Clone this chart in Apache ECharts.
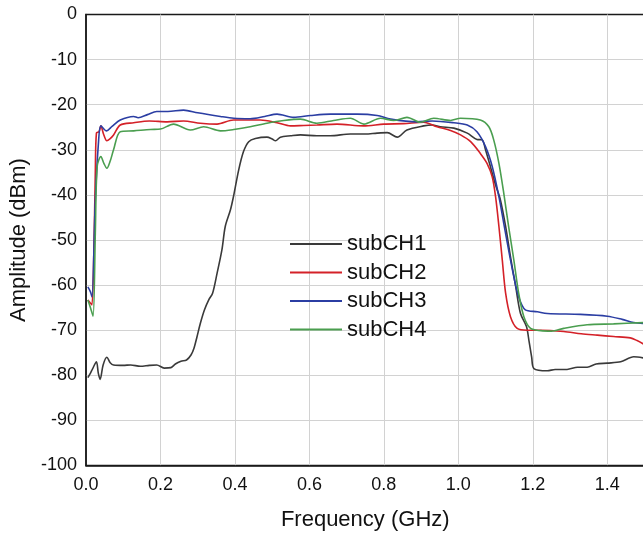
<!DOCTYPE html>
<html>
<head>
<meta charset="utf-8">
<script src="https://cdn.jsdelivr.net/npm/echarts@6/dist/echarts.min.js"></script>
<style>
  html, body { margin: 0; padding: 0; background: #fff; }
  #chart { width: 643px; height: 535px; }
</style>
</head>
<body>
<div id="chart"></div>
<script>
// series names
const seriesNames = ['subCH1', 'subCH2', 'subCH3', 'subCH4'];

// subCH1 (black)
const ch1Freq = [0.005, 0.012, 0.018, 0.028, 0.033, 0.038, 0.046, 0.056, 0.065, 0.074, 0.1, 0.12, 0.146, 0.17, 0.19, 0.21, 0.228, 0.24, 0.255, 0.27, 0.282, 0.29, 0.298, 0.307, 0.318, 0.33, 0.34, 0.352, 0.365, 0.374, 0.388, 0.397, 0.41, 0.423, 0.437, 0.455, 0.486, 0.5, 0.509, 0.522, 0.55, 0.576, 0.62, 0.656, 0.71, 0.75, 0.782, 0.809, 0.836, 0.862, 0.907, 0.93, 0.952, 0.988, 1.024, 1.05, 1.064, 1.073, 1.086, 1.1, 1.113, 1.127, 1.14, 1.154, 1.167, 1.183, 1.19, 1.197, 1.203, 1.239, 1.26, 1.292, 1.32, 1.346, 1.37, 1.4, 1.436, 1.471, 1.5];
const ch1Amp = [-80.5, -79.5, -78.5, -77.0, -79.5, -80.9, -77.7, -76.0, -77.2, -77.7, -77.8, -77.7, -78.0, -77.8, -77.7, -78.4, -78.3, -77.5, -76.9, -76.6, -75.5, -74.0, -71.5, -68.5, -65.5, -63.2, -61.8, -57.4, -52.2, -47.0, -43.3, -40.0, -34.5, -30.4, -28.2, -27.5, -27.2, -27.6, -28.0, -27.2, -26.9, -26.7, -26.9, -26.9, -26.5, -26.5, -26.3, -26.2, -27.2, -25.6, -24.7, -24.5, -24.9, -25.2, -26.3, -27.7, -27.8, -30.0, -33.7, -37.8, -41.1, -47.0, -53.7, -60.3, -66.3, -69.2, -72.5, -76.0, -78.5, -79.0, -78.7, -78.7, -78.2, -78.2, -77.5, -77.3, -77.0, -75.9, -76.2];

// subCH2 (red)
const ch2Freq = [0.005, 0.012, 0.016, 0.021, 0.025, 0.028, 0.035, 0.04, 0.047, 0.056, 0.065, 0.074, 0.092, 0.128, 0.17, 0.218, 0.262, 0.307, 0.352, 0.396, 0.468, 0.513, 0.549, 0.585, 0.62, 0.674, 0.745, 0.8, 0.853, 0.907, 0.943, 0.979, 1.006, 1.033, 1.059, 1.077, 1.091, 1.1, 1.109, 1.118, 1.127, 1.14, 1.158, 1.185, 1.221, 1.283, 1.33, 1.373, 1.417, 1.462, 1.48, 1.5];
const ch2Amp = [-63.3, -64.0, -64.4, -53.0, -35.0, -26.3, -26.0, -24.7, -26.5, -28.0, -27.5, -26.7, -24.5, -24.0, -23.6, -23.8, -23.6, -24.1, -24.3, -23.4, -23.4, -24.0, -24.7, -24.6, -24.5, -24.3, -24.7, -24.3, -24.2, -23.9, -24.9, -25.7, -26.7, -28.2, -30.8, -33.0, -36.0, -40.4, -47.0, -54.4, -61.8, -67.0, -69.6, -70.0, -70.0, -70.3, -70.8, -71.1, -71.4, -71.7, -72.3, -73.2];

// subCH3 (blue)
const ch3Freq = [0.005, 0.012, 0.016, 0.025, 0.034, 0.04, 0.055, 0.07, 0.092, 0.128, 0.14, 0.165, 0.19, 0.22, 0.262, 0.3, 0.361, 0.397, 0.441, 0.48, 0.513, 0.558, 0.603, 0.656, 0.728, 0.782, 0.818, 0.889, 0.93, 0.988, 1.024, 1.05, 1.073, 1.091, 1.109, 1.122, 1.135, 1.149, 1.162, 1.18, 1.212, 1.239, 1.328, 1.4, 1.44, 1.471, 1.5];
const ch3Amp = [-60.4, -61.5, -62.6, -41.1, -27.8, -24.7, -25.8, -24.8, -23.4, -22.6, -22.9, -22.2, -21.5, -21.5, -21.2, -21.8, -22.6, -23.0, -23.1, -22.6, -22.1, -22.8, -22.4, -22.1, -22.1, -22.4, -23.2, -23.8, -23.6, -24.0, -24.5, -26.0, -29.3, -33.7, -40.4, -46.3, -52.2, -58.1, -62.6, -65.5, -65.9, -66.3, -66.5, -66.9, -67.6, -68.3, -68.5];

// subCH4 (green)
const ch4Freq = [0.005, 0.012, 0.019, 0.025, 0.03, 0.04, 0.048, 0.056, 0.065, 0.074, 0.092, 0.128, 0.173, 0.2, 0.235, 0.28, 0.316, 0.361, 0.397, 0.441, 0.486, 0.531, 0.576, 0.62, 0.665, 0.71, 0.746, 0.791, 0.826, 0.862, 0.898, 0.934, 0.979, 1.006, 1.059, 1.082, 1.095, 1.109, 1.122, 1.135, 1.149, 1.162, 1.176, 1.194, 1.221, 1.25, 1.283, 1.346, 1.417, 1.5];
const ch4Amp = [-63.3, -65.0, -66.9, -48.5, -33.7, -31.5, -33.0, -34.1, -32.5, -30.0, -26.0, -25.8, -25.5, -25.4, -24.3, -25.6, -24.9, -25.8, -25.5, -24.9, -24.1, -23.5, -23.2, -24.1, -23.5, -23.0, -24.3, -23.0, -23.5, -22.8, -23.9, -23.0, -23.5, -23.0, -23.4, -24.9, -27.8, -33.0, -39.6, -47.0, -54.4, -61.8, -67.0, -69.6, -70.1, -70.2, -69.6, -68.8, -68.6, -68.3];

const seriesColors = ['#3a3a3a', '#d42128', '#2b3ea3', '#4a9e4f'];

const toPairs = (xs, ys) => xs.map((x, i) => [x, ys[i]]);
const seriesData = [
  toPairs(ch1Freq, ch1Amp),
  toPairs(ch2Freq, ch2Amp),
  toPairs(ch3Freq, ch3Amp),
  toPairs(ch4Freq, ch4Amp)
];

const chart = echarts.init(document.getElementById('chart'), null, { renderer: 'canvas' });
const font = '"Liberation Sans", Arial, sans-serif';

chart.setOption({
  animation: false,
  backgroundColor: '#fff',
  grid: {
    left: 86, top: 14.5, width: 558.5, height: 451,
    show: true, borderColor: '#1a1a1a', borderWidth: 1.5,
    outerBoundsMode: 'none'
  },
  legend: {
    data: seriesNames,
    orient: 'vertical',
    left: 290,
    top: 233,
    padding: 0,
    itemWidth: 52,
    itemHeight: 2,
    itemGap: 6.5,
    icon: 'rect',
    textStyle: { fontFamily: font, fontSize: 22, color: '#111', lineHeight: 22 }
  },
  xAxis: {
    type: 'value',
    min: 0, max: 1.5, interval: 0.2,
    name: 'Frequency (GHz)',
    nameLocation: 'middle',
    nameGap: 43,
    nameTextStyle: { fontFamily: font, fontSize: 22, color: '#111' },
    axisLine: { show: true, onZero: false, lineStyle: { color: '#1a1a1a', width: 1.5 } },
    axisTick: { show: false },
    axisLabel: {
      fontFamily: font, fontSize: 18, color: '#111', margin: 11,
      showMaxLabel: false,
      formatter: v => v.toFixed(1)
    },
    splitLine: { show: true, showMinLine: false, showMaxLine: false, lineStyle: { color: '#d2d2d2', width: 1 } }
  },
  yAxis: {
    type: 'value',
    min: -100, max: 0, interval: 10,
    name: 'Amplitude (dBm)',
    nameLocation: 'middle',
    nameGap: 52,
    nameTextStyle: { fontFamily: font, fontSize: 22, color: '#111' },
    axisLine: { show: true, lineStyle: { color: '#1a1a1a', width: 1.5 } },
    axisTick: { show: false },
    axisLabel: { fontFamily: font, fontSize: 18, color: '#111', margin: 9 },
    splitLine: { show: true, showMinLine: false, showMaxLine: false, lineStyle: { color: '#d2d2d2', width: 1 } }
  },
  series: seriesNames.map((name, i) => ({
    name: name,
    type: 'line',
    data: seriesData[i],
    symbol: 'none',
    smooth: 0.3,
    color: seriesColors[i],
    lineStyle: { color: seriesColors[i], width: 1.6 }
  }))
});
</script>
</body>
</html>
